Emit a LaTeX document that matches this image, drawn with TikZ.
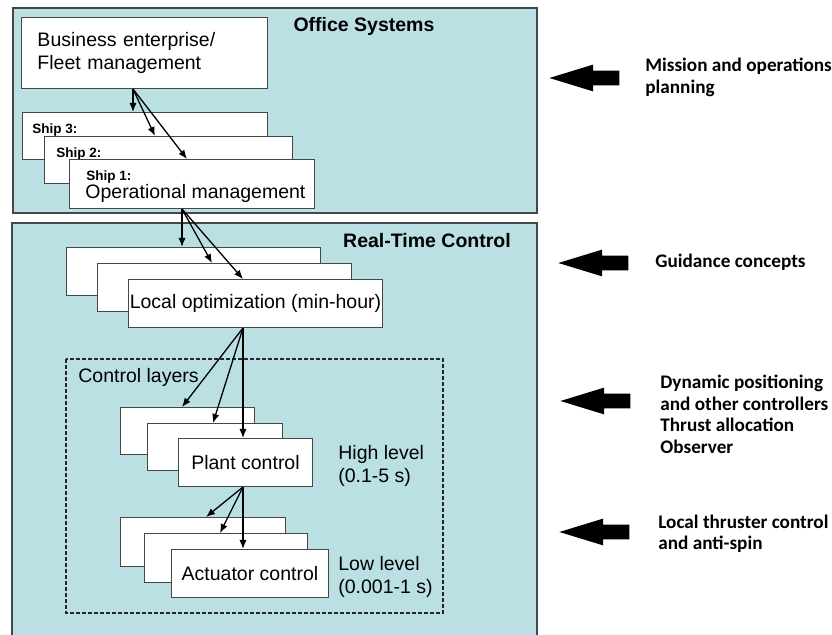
\documentclass[tikz,border=0pt]{standalone}
\usepackage{fontspec}
\setmainfont{Liberation Sans}
\newfontfamily\notefont{Carlito}
\usetikzlibrary{arrows.meta,shapes.arrows}
\definecolor{layerfill}{RGB}{186,224,227}
\definecolor{edgegray}{RGB}{70,70,70}

\begin{document}
\begin{tikzpicture}[x=0.5pt,y=-0.5pt,
		box/.style={draw=edgegray,fill=white,line width=0.5pt,inner sep=0pt,anchor=north west},
		frame/.style={draw=edgegray,fill=layerfill,line width=0.6pt},
		layerbox/.style={draw=black!85,line width=0.7pt,dash pattern=on 2pt off 1pt},
		flow/.style={line width=0.65pt,-{Latex[length=4.5pt,width=3.6pt]}},
		bigarrow/.style={single arrow,shape border rotate=180,fill=black,inner xsep=0pt,inner ysep=3.5pt,anchor=tip,
			minimum width=13pt,minimum height=35pt,single arrow head extend=3pt,single arrow tip angle=34},
		txt/.style={font=\fontsize{9.75}{11.5}\selectfont},
		title/.style={font=\bfseries\fontsize{9.75}{11.5}\selectfont,inner sep=0pt},
		tag/.style={font=\bfseries\fontsize{6.75}{8}\selectfont,inner sep=0pt,anchor=north west},
		note/.style={font=\notefont\bfseries\fontsize{9.6}{10.75}\selectfont,align=left,anchor=west,inner sep=0pt}]
	\clip (0,0) rectangle (832,635);
	\fill[white] (0,0) rectangle (832,635);
	\draw[frame] (13,8) rectangle (537,213);
	\draw[frame] (12,223) rectangle (537,640);
	\node[title] (office) at (364,26) {Office Systems};
	\node[title] (realtime) at (427,241) {Real-Time Control};

	\node[box,txt,minimum height=35.5pt,text width=107pt,inner xsep=8pt,align=left] (biz) at (21,17) {Business enterprise/\\Fleet management};
	\node[box,minimum width=122.5pt,minimum height=23.5pt] (ship3) at (22,112) {};
	\node[tag] (tag3) at (32,123.5) {Ship 3:};
	\node[box,minimum width=124pt,minimum height=23.5pt] (ship2) at (44,136) {};
	\node[tag] (tag2) at (56,147) {Ship 2:};
	\node[box,minimum width=122.5pt,minimum height=24.5pt] (ship1) at (69,159) {};
	\node[tag] (tag1) at (86,170) {Ship 1:};
	\node[txt,inner sep=0pt,anchor=base west] (opman) at (85,199) {Operational management};

	\node[box,minimum width=127pt,minimum height=24pt] (opt3) at (66,247) {};
	\node[box,minimum width=127pt,minimum height=24pt] (opt2) at (97,263) {};
	\node[box,txt,minimum width=127pt,minimum height=24pt] (opt1) at (128,279) {Local optimization (min-hour)};

	\draw[layerbox] (66,359) rectangle (443,613);
	\node[txt,anchor=west,inner sep=0pt] (layers) at (78,377) {Control layers};

	\node[box,minimum width=67pt,minimum height=23.5pt] (plant3) at (120,407) {};
	\node[box,minimum width=67.5pt,minimum height=23.5pt] (plant2) at (147,423) {};
	\node[box,txt,minimum width=67pt,minimum height=24pt] (plant1) at (178,438) {Plant control};
	\node[txt,anchor=west,align=left,inner sep=0pt] (high) at (338,465.5) {High level\\(0.1-5 s)};

	\node[box,minimum width=82.5pt,minimum height=24.5pt] (act3) at (120,517) {};
	\node[box,minimum width=81.5pt,minimum height=24.5pt] (act2) at (144,533) {};
	\node[box,txt,minimum width=78.5pt,minimum height=24pt] (act1) at (171,549) {Actuator control};
	\node[txt,anchor=west,align=left,inner sep=0pt] (low) at (338,576.5) {Low level\\(0.001-1 s)};

	\coordinate (bizout) at ([xshift=56pt]biz.south west);
	\draw[flow] (bizout) -- (bizout |- ship3.north);
	\draw[flow] (bizout) -- ([xshift=55.5pt]ship2.north west);
	\draw[flow] (bizout) -- ([xshift=59pt]ship1.north west);

	\coordinate (shipout) at ([xshift=56.5pt]ship1.south west);
	\draw[flow] (shipout) -- (shipout |- opt3.north);
	\draw[flow] (shipout) -- ([xshift=57.5pt]opt2.north west);
	\draw[flow] (shipout) -- ([xshift=57.5pt]opt1.north west);

	\coordinate (optout) at ([xshift=57.5pt]opt1.south west);
	\draw[flow] (optout) -- ([xshift=31pt]plant3.north west);
	\draw[flow] (optout) -- ([xshift=33pt]plant2.north west);
	\draw[flow] (optout) -- (optout |- plant1.north);

	\coordinate (plantout) at ([xshift=32.5pt]plant1.south west);
	\draw[flow] (plantout) -- ([xshift=43pt]act3.north west);
	\draw[flow] (plantout) -- ([xshift=38pt]act2.north west);
	\draw[flow] (plantout) -- (plantout |- act1.north);

	\node[bigarrow] (arr1) at (548,78) {};
	\node[note] (mission) at (645,77.5) {Mission and operations\\planning};
	\node[bigarrow] (arr2) at (557,263) {};
	\node[note] (guidance) at (655,262) {Guidance concepts};
	\node[bigarrow] (arr3) at (559,401) {};
	\node[note] (dynpos) at (660,414.5) {Dynamic positioning\\and other controllers\\Thrust allocation\\Observer};
	\node[bigarrow] (arr4) at (558,532) {};
	\node[note] (thruster) at (658,534) {Local thruster control\\and anti-spin};
\end{tikzpicture}
\end{document}
